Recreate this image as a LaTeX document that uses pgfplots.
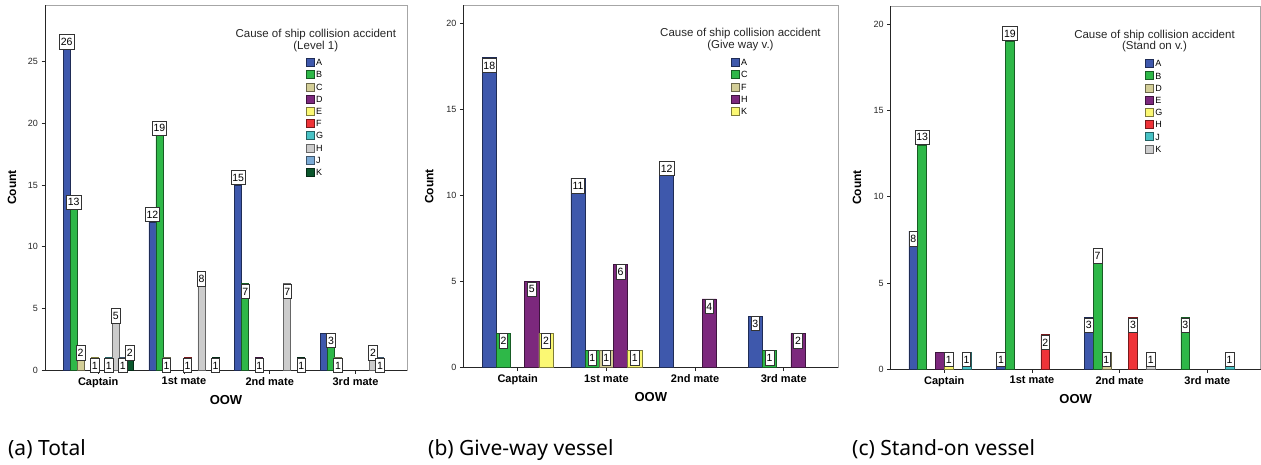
\documentclass[border=0pt]{standalone}
\usepackage{fontspec}
\setmainfont{Liberation Sans}
\newfontfamily\capfont{Noto Sans}
\usepackage{pgfplots}
\pgfplotsset{compat=1.18}
\definecolor{cA}{HTML}{3E58AC}
\definecolor{cB}{HTML}{2EB848}
\definecolor{cC}{HTML}{D3CE97}
\definecolor{cD}{HTML}{7C287D}
\definecolor{cE}{HTML}{FBF873}
\definecolor{cF}{HTML}{EF3338}
\definecolor{cG}{HTML}{48C2C5}
\definecolor{cH}{HTML}{CCCCCC}
\definecolor{cJ}{HTML}{7AAAD5}
\definecolor{cK}{HTML}{0A562C}
\pgfplotsset{
 spss/.style={scale only axis, anchor=south west, clip=false, ymin=0,
  xtick={0,1,2,3}, xticklabels={Captain,1st mate,2nd mate,3rd mate},
  axis line style={draw=black!35, line width=0.6pt},
  tick align=outside, xtick pos=bottom, ytick pos=left,
  major tick length=3.5pt, tick style={draw=black!85, line width=0.6pt},
  xticklabel style={font=\bfseries\fontsize{11}{12}\selectfont},
  yticklabel style={font=\fontsize{9}{10}\selectfont, text=black!85},
  /pgf/number format/assume math mode=true,
  xlabel={OOW}, ylabel={Count},
  xlabel style={font=\bfseries\fontsize{13}{14}\selectfont, at={(axis description cs:0.5,-0.082)}, anchor=center},
  ylabel style={font=\bfseries\fontsize{12}{14}\selectfont, at={(axis description cs:-0.091,0.5)}, anchor=center},
  legend style={anchor=north west, draw=none, fill=none, inner sep=0pt,
    font=\fontsize{9}{10}\selectfont, row sep=0pt, column sep=1.6pt,
    nodes={inner xsep=0pt, inner ysep=2.8pt, text height=6.6pt, text depth=0pt}},
  legend cell align=left,
 },
 bb/.style 2 args={ybar, bar shift=#2, fill=#1, draw=#1!50!black, line width=0.6pt,
   every node near coord/.append style={shift={(axis direction cs:#2,0)}},
   legend image code/.code={\draw[fill=#1, draw=#1!50!black, line width=0.6pt] (0pt,-4pt) rectangle (8pt,4pt);}},
 lb/.style={nodes near coords, visualization depends on={rawy \as \rawy},
   every node near coord/.append style={font=\fontsize{10.5}{11}\selectfont, draw=black!80, fill=white,
     line width=0.7pt, inner xsep=1.4pt, inner ysep=3.4pt, text height=7.6pt, text depth=0pt,
     anchor=north, yshift={(\rawy>#1)*15.2}}},
}
\begin{document}
\begin{tikzpicture}
\path[use as bounding box] (0,0) rectangle (1261pt,-464pt);
% ---------------- (a) Total
\begin{axis}[spss, at={(45pt,-370pt)}, width=362pt, height=365pt,
  xmin=-0.62, xmax=3.60, ymax=29.6, ytick={0,5,10,15,20,25}, /pgf/bar width=0.0817,
  legend style={at={(rel axis cs:0.720,0.860)}}]
\draw[black!85, line width=0.7pt] (rel axis cs:0,1) -- (rel axis cs:0,0) -- (rel axis cs:1,0);
\addplot[bb={cA}{-0.3677}, forget plot] coordinates {(3,3)};
\addplot[bb={cA}{-0.3677}, lb=9.5] coordinates {(0,26) (1,12) (2,15)};
\addlegendentry{A}
\addplot[bb={cB}{-0.2860}, lb=9.5] coordinates {(0,13) (1,19) (2,7) (3,3)};
\addlegendentry{B}
\addplot[bb={cC}{-0.2043}, lb=9.5] coordinates {(0,2) (1,1) (3,1)};
\addlegendentry{C}
\addplot[bb={cD}{-0.1226}, lb=9.5] coordinates {(2,1)};
\addlegendentry{D}
\addplot[bb={cE}{-0.0409}, lb=9.5] coordinates {(0,1)};
\addlegendentry{E}
\addplot[bb={cF}{0.0409}, lb=9.5] coordinates {(1,1)};
\addlegendentry{F}
\addplot[bb={cG}{0.1226}, lb=9.5] coordinates {(0,1)};
\addlegendentry{G}
\addplot[bb={cH}{0.2043}, lb=9.5] coordinates {(0,5) (1,8) (2,7) (3,2)};
\addlegendentry{H}
\addplot[bb={cJ}{0.2860}, lb=9.5] coordinates {(0,1) (3,1)};
\addlegendentry{J}
\addplot[bb={cK}{0.3677}, lb=9.5] coordinates {(0,2) (1,1) (2,1)};
\addlegendentry{K}
\node[align=center, anchor=north, inner sep=0pt, font=\fontsize{11.5}{11.7}\selectfont, text=black!85]
  at (rel axis cs:0.748,0.934) {Cause of ship collision accident\\(Level 1)};
\end{axis}
% ---------------- (b) Give-way
\begin{axis}[spss, at={(463.3pt,-367.7pt)}, width=375pt, height=362.7pt,
  xmin=-0.613, xmax=3.615, ymax=21.06, ytick={0,5,10,15,20}, /pgf/bar width=0.16,
  legend style={at={(rel axis cs:0.713,0.859)}}]
\draw[black!85, line width=0.7pt] (rel axis cs:0,1) -- (rel axis cs:0,0) -- (rel axis cs:1,0);
\addplot[bb={cA}{-0.32}, lb=99] coordinates {(0,18) (1,11) (2,12) (3,3)};
\addlegendentry{A}
\addplot[bb={cB}{-0.16}, lb=99] coordinates {(0,2) (1,1) (3,1)};
\addlegendentry{C}
\addplot[bb={cC}{0}, lb=99] coordinates {(1,1)};
\addlegendentry{F}
\addplot[bb={cD}{0.16}, lb=99] coordinates {(0,5) (1,6) (2,4) (3,2)};
\addlegendentry{H}
\addplot[bb={cE}{0.32}, lb=99] coordinates {(0,2) (1,1)};
\addlegendentry{K}
\node[align=center, anchor=north, inner sep=0pt, font=\fontsize{11.5}{11.7}\selectfont, text=black!85]
  at (rel axis cs:0.739,0.937) {Cause of ship collision accident\\(Give way v.)};
\end{axis}
% ---------------- (c) Stand-on
\begin{axis}[spss, at={(890.7pt,-369.3pt)}, width=370pt, height=363.3pt,
  xmin=-0.611, xmax=3.608, ymax=21.04, ytick={0,5,10,15,20}, /pgf/bar width=0.101,
  legend style={at={(rel axis cs:0.687,0.859)}}]
\draw[black!85, line width=0.7pt] (rel axis cs:0,1) -- (rel axis cs:0,0) -- (rel axis cs:1,0);
\addplot[bb={cA}{-0.3535}, lb=9.5] coordinates {(0,8) (1,1) (2,3)};
\addlegendentry{A}
\addplot[bb={cB}{-0.2525}, lb=9.5] coordinates {(0,13) (1,19) (2,7) (3,3)};
\addlegendentry{B}
\addplot[bb={cC}{-0.1515}, lb=9.5] coordinates {(2,1)};
\addlegendentry{D}
\addplot[bb={cD}{-0.0505}] coordinates {(0,1)};
\addlegendentry{E}
\addplot[bb={cE}{0.0505}, lb=9.5] coordinates {(0,1)};
\addlegendentry{G}
\addplot[bb={cF}{0.1515}, lb=9.5] coordinates {(1,2) (2,3)};
\addlegendentry{H}
\addplot[bb={cG}{0.2525}, lb=9.5] coordinates {(0,1) (3,1)};
\addlegendentry{J}
\addplot[bb={cH}{0.3535}, lb=9.5] coordinates {(2,1)};
\addlegendentry{K}
\node[align=center, anchor=north, inner sep=0pt, font=\fontsize{11.5}{11.7}\selectfont, text=black!85]
  at (rel axis cs:0.713,0.935) {Cause of ship collision accident\\(Stand on v.)};
\end{axis}
% ---------------- captions
\node[anchor=base west, inner sep=0pt, font=\capfont\fontsize{21}{24}\selectfont] at (8pt,-455pt) {(a) Total};
\node[anchor=base west, inner sep=0pt, font=\capfont\fontsize{21}{24}\selectfont] at (428pt,-455pt) {(b) Give-way vessel};
\node[anchor=base west, inner sep=0pt, font=\capfont\fontsize{21}{24}\selectfont] at (852pt,-455pt) {(c) Stand-on vessel};
\end{tikzpicture}
\end{document}
